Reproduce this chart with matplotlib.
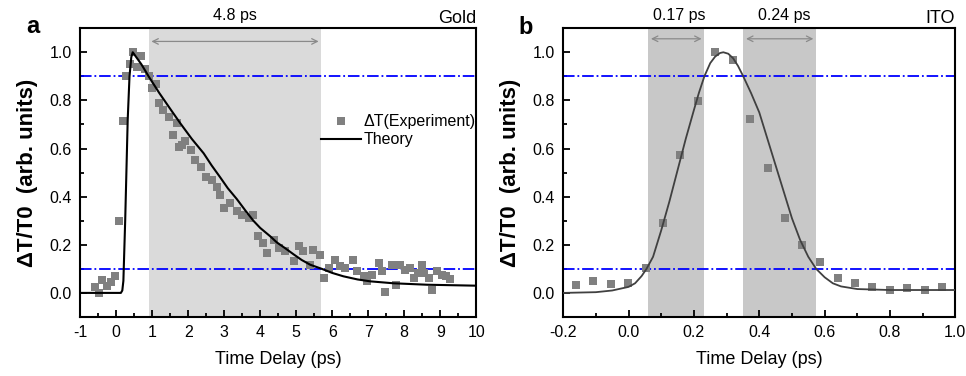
import numpy as np
import matplotlib
matplotlib.use('Agg')
import matplotlib.pyplot as plt
from matplotlib.ticker import MultipleLocator, FormatStrFormatter

plt.rcParams['font.family'] = ['Liberation Sans', 'DejaVu Sans']
plt.rcParams['axes.unicode_minus'] = False

# ---- panel a: gold ----
gold_x = [-0.59, -0.49, -0.39, -0.26, -0.15, -0.02, 0.09, 0.185, 0.28, 0.37, 0.48, 0.57,
          0.69, 0.81, 0.9, 0.99, 1.11, 1.2, 1.3, 1.48, 1.59, 1.69, 1.75, 1.82, 1.92, 2.07,
          2.19, 2.35, 2.5, 2.66, 2.8, 2.89, 3.0, 3.17, 3.35, 3.49, 3.68, 3.8, 3.94, 4.09,
          4.19, 4.37, 4.51, 4.69, 4.93, 5.09, 5.2, 5.39, 5.48, 5.67, 5.78, 5.9, 6.08, 6.22,
          6.36, 6.57, 6.69, 6.87, 6.96, 7.1, 7.29, 7.38, 7.47, 7.66, 7.78, 7.89, 8.03, 8.17,
          8.26, 8.37, 8.49, 8.54, 8.68, 8.77, 8.91, 9.05, 9.17, 9.28]
gold_y = [0.025, 0.0, 0.052, 0.027, 0.044, 0.069, 0.297, 0.716, 0.90, 0.95, 1.0, 0.94,
          0.986, 0.93, 0.90, 0.85, 0.87, 0.79, 0.76, 0.73, 0.657, 0.705, 0.606, 0.615, 0.63, 0.595,
          0.553, 0.525, 0.48, 0.47, 0.442, 0.407, 0.353, 0.373, 0.339, 0.325, 0.311, 0.325, 0.235, 0.207,
          0.166, 0.221, 0.187, 0.173, 0.131, 0.193, 0.173, 0.117, 0.18, 0.159, 0.062, 0.104, 0.138, 0.11,
          0.104, 0.138, 0.09, 0.069, 0.048, 0.076, 0.124, 0.09, 0.003, 0.117, 0.034, 0.117, 0.097, 0.104,
          0.062, 0.083, 0.117, 0.083, 0.062, 0.014, 0.09, 0.076, 0.069, 0.058]
gold_fit_x = [-1, 0.13, 0.17, 0.2, 0.25, 0.32, 0.37, 0.42, 0.46, 0.7, 0.9, 1.2, 1.5, 1.78,
              2.1, 2.43, 2.65, 2.89, 3.1, 3.35, 3.6, 3.81, 4.0, 4.28, 4.46, 4.7, 4.93, 5.15,
              5.39, 5.71, 6.0, 6.31, 6.7, 7.06, 7.7, 8.63, 10]
gold_fit_y = [0, 0, 0.01, 0.05, 0.3, 0.72, 0.9, 0.98, 1.0, 0.95, 0.9, 0.83, 0.765, 0.705,
              0.64, 0.58, 0.53, 0.48, 0.435, 0.39, 0.34, 0.30, 0.27, 0.235, 0.21, 0.185, 0.16, 0.137,
              0.117, 0.1, 0.083, 0.069, 0.056, 0.048, 0.04, 0.034, 0.03]

# ---- panel b: ITO ----
ito_x = [-0.161, -0.108, -0.054, -0.001, 0.052, 0.105, 0.158, 0.212, 0.266, 0.319, 0.372,
         0.426, 0.479, 0.532, 0.586, 0.64, 0.693, 0.746, 0.8, 0.853, 0.906, 0.959]
ito_y = [0.031, 0.051, 0.035, 0.043, 0.104, 0.292, 0.574, 0.797, 1.0, 0.969, 0.722,
         0.519, 0.31, 0.199, 0.128, 0.0625, 0.042, 0.025, 0.011, 0.019, 0.011, 0.025]
ito_fit_x = [-0.2, -0.1, -0.05, 0.0, 0.02, 0.04, 0.055, 0.075, 0.1, 0.125, 0.15, 0.175, 0.2,
             0.215, 0.232, 0.25, 0.265, 0.28, 0.29, 0.305, 0.32, 0.335, 0.351, 0.375, 0.4,
             0.425, 0.45, 0.475, 0.5, 0.525, 0.55, 0.574, 0.6, 0.625, 0.65, 0.7, 0.8, 1.0]
ito_fit_y = [0.0, 0.003, 0.01, 0.025, 0.04, 0.07, 0.1, 0.15, 0.26, 0.38, 0.51, 0.64, 0.76,
             0.83, 0.9, 0.955, 0.982, 0.997, 1.0, 0.994, 0.975, 0.943, 0.9, 0.83, 0.75,
             0.64, 0.53, 0.42, 0.31, 0.22, 0.15, 0.1, 0.065, 0.04, 0.027, 0.016, 0.012, 0.012]

gold_band = (0.9, 5.7)
ito_bands = [(0.06, 0.232), (0.351, 0.574)]
levels = [0.9, 0.1]

fig = plt.figure(figsize=(9.66, 3.76), dpi=100)
ax1 = fig.add_axes([0.083, 0.157, 0.410, 0.768])
ax2 = fig.add_axes([0.583, 0.157, 0.406, 0.768])


def style(ax):
    for s in ax.spines.values():
        s.set_linewidth(1.5)
    ax.tick_params(which='both', direction='in', top=False, right=False, labelsize=11.5, width=1.3)
    ax.tick_params(which='major', length=5, pad=6)
    ax.tick_params(which='minor', length=3)
    ax.set_ylim(-0.1, 1.1)
    ax.yaxis.set_major_locator(MultipleLocator(0.2))
    ax.yaxis.set_minor_locator(MultipleLocator(0.1))
    ax.yaxis.set_major_formatter(FormatStrFormatter('%.1f'))
    ax.set_xlabel('Time Delay (ps)', fontsize=13, labelpad=8)
    ax.set_ylabel('ΔT/T0  (arb. units)', fontsize=16, fontweight='bold', labelpad=8)
    for lv in levels:
        ax.axhline(lv, color='#0000ff', ls='-.', lw=1.3, zorder=2)


# panel a
ax1.axvspan(*gold_band, color='#dadada', lw=0, zorder=0)
ax1.plot(gold_x, gold_y, 's', color='#808080', ms=5.2, mew=0, label='ΔT(Experiment)', zorder=3)
ax1.plot(gold_fit_x, gold_fit_y, '-', color='black', lw=1.5, label='Theory', zorder=4)
ax1.set_xlim(-1, 10)
ax1.xaxis.set_major_locator(MultipleLocator(1))
ax1.xaxis.set_minor_locator(MultipleLocator(0.5))
style(ax1)
ax1.annotate('', xy=(gold_band[0], 1.045), xytext=(gold_band[1], 1.045),
             arrowprops=dict(arrowstyle='<->', color='#8a8a8a', lw=0.9))
ax1.text(3.3, 1.12, '4.8 ps', ha='center', va='bottom', fontsize=11.5)
ax1.text(1.0, 1.005, 'Gold', transform=ax1.transAxes, ha='right', va='bottom', fontsize=13)
ax1.text(-0.135, 0.983, 'a', transform=ax1.transAxes, ha='left', va='baseline', fontsize=17, fontweight='bold')
ax1.legend(loc='upper left', bbox_to_anchor=(0.588, 0.73), frameon=False, fontsize=11.5,
           handlelength=2.5, handletextpad=0.15, borderpad=0, labelspacing=0.2)

# panel b
for b in ito_bands:
    ax2.axvspan(*b, color='#c8c8c8', lw=0, zorder=0)
ax2.plot(ito_x, ito_y, 's', color='#808080', ms=5.2, mew=0, zorder=3)
ax2.plot(ito_fit_x, ito_fit_y, '-', color='#404040', lw=1.3, zorder=4)
ax2.set_xlim(-0.2, 1.0)
ax2.xaxis.set_major_locator(MultipleLocator(0.2))
ax2.xaxis.set_minor_locator(MultipleLocator(0.1))
ax2.xaxis.set_major_formatter(FormatStrFormatter('%.1f'))
style(ax2)
for b, lab, cx in zip(ito_bands, ['0.17 ps', '0.24 ps'], [0.154, 0.476]):
    ax2.annotate('', xy=(b[0], 1.056), xytext=(b[1], 1.056),
                 arrowprops=dict(arrowstyle='<->', color='#8a8a8a', lw=0.9))
    ax2.text(cx, 1.12, lab, ha='center', va='bottom', fontsize=11.5)
ax2.text(1.0, 1.005, 'ITO', transform=ax2.transAxes, ha='right', va='bottom', fontsize=13)
ax2.text(-0.115, 0.979, 'b', transform=ax2.transAxes, ha='left', va='baseline', fontsize=17, fontweight='bold')

fig.savefig('out.png', dpi=100)
